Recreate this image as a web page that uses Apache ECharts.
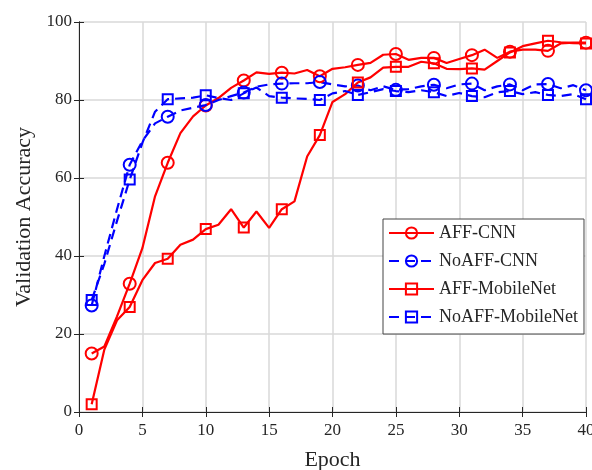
<!DOCTYPE html>
<html>
<head>
<meta charset="utf-8">
<script src="https://cdn.jsdelivr.net/npm/echarts@6/dist/echarts.min.js"></script>
<style>html,body{margin:0;padding:0;background:#fff;}#c{width:592px;height:470px;}</style>
</head>
<body>
<div id="c"></div>
<script>
const epochs = Array.from({length: 40}, (_, i) => i + 1);
const xTicks = [0, 5, 10, 15, 20, 25, 30, 35, 40];
const yTicks = [0, 20, 40, 60, 80, 100];

const affCNN = [15.0, 16.8, 24.5, 32.9, 42.0, 55.3, 63.9, 71.5, 75.8, 78.6,
  80.5, 83.1, 85.0, 87.1, 86.7, 87.0, 86.8, 87.7, 86.1, 88.0,
  88.4, 89.0, 89.5, 91.6, 91.8, 90.3, 90.8, 90.8, 89.5, 90.5,
  91.5, 92.9, 90.8, 92.4, 92.9, 92.9, 92.6, 94.5, 94.7, 94.7];
const noaffCNN = [27.3, 40.0, 52.0, 63.4, 69.5, 74.0, 75.7, 77.3, 78.0, 78.7,
  80.0, 81.0, 81.9, 83.4, 84.0, 84.2, 84.3, 84.3, 84.6, 84.0,
  83.5, 83.7, 82.5, 83.5, 82.6, 82.8, 83.5, 83.9, 83.0, 84.0,
  84.2, 82.5, 83.5, 84.0, 82.5, 84.0, 84.1, 83.0, 83.8, 82.5];
const affMobile = [2.0, 16.0, 23.5, 26.9, 33.8, 38.2, 39.3, 42.9, 44.2, 46.9,
  48.0, 52.0, 47.3, 51.4, 47.2, 52.0, 54.0, 65.5, 71.0, 79.5,
  81.5, 84.5, 85.8, 88.3, 88.5, 88.5, 89.8, 89.4, 88.0, 87.9,
  88.1, 87.8, 90.0, 92.2, 93.8, 94.5, 95.2, 94.8, 94.6, 94.5];
const noaffMobile = [28.7, 38.0, 49.0, 59.6, 69.0, 77.0, 80.2, 80.4, 80.6, 81.2,
  80.5, 80.0, 81.7, 83.2, 81.0, 80.6, 80.4, 80.3, 80.0, 81.7,
  82.3, 81.3, 82.0, 82.8, 82.3, 82.0, 82.5, 82.0, 81.0, 81.8,
  81.0, 80.7, 82.0, 82.3, 81.5, 82.0, 81.3, 81.0, 81.5, 80.2];

const FONT = 'Liberation Serif';
const TXT = '#262626';

function mk(vals) {
  return vals.map((v, i) => (i % 3 === 0) ? [epochs[i], v] : {value: [epochs[i], v], symbol: 'none'});
}
function series(name, vals, color, symbol, dashed, size) {
  return {
    name, type: 'line', data: mk(vals), showAllSymbol: true,
    symbol, symbolSize: size,
    lineStyle: {color, width: 2.2, type: dashed ? [10, 6] : 'solid'},
    itemStyle: {color: 'rgba(255,255,255,0)', borderColor: color, borderWidth: 2},
    color: color,
    emphasis: {disabled: true},
    animation: false
  };
}

const chart = echarts.init(document.getElementById('c'), null, {renderer: 'canvas'});
const axisLine = {show: true, lineStyle: {color: TXT, width: 1}};
chart.setOption({
  backgroundColor: '#fff',
  animation: false,
  grid: {left: 79, right: 6, top: 22, bottom: 58, containLabel: false, outerBoundsMode: 'none'},
  legend: {
    orient: 'vertical', left: 383, top: 219,
    padding: [5, 6, 8, 5], itemGap: 10, itemWidth: 45, itemHeight: 14,
    backgroundColor: '#fff', borderColor: '#444', borderWidth: 1, borderRadius: 0,
    textStyle: {fontFamily: FONT, fontSize: 18, color: TXT},
    data: ['AFF-CNN', 'NoAFF-CNN', 'AFF-MobileNet', 'NoAFF-MobileNet']
  },
  xAxis: [{
    type: 'value', min: xTicks[0], max: xTicks[xTicks.length - 1], interval: 5,
    name: 'Epoch', nameLocation: 'middle', nameGap: 37,
    nameTextStyle: {fontFamily: FONT, fontSize: 22, color: TXT},
    axisLine, axisTick: {show: true, inside: true, length: 5, lineStyle: {color: TXT}},
    axisLabel: {fontFamily: FONT, fontSize: 17, color: TXT, margin: 10},
    splitLine: {show: true, lineStyle: {color: '#d8d8d8', width: 1.5}}
  }, {
    type: 'value', position: 'top', min: 0, max: 40, interval: 5,
    axisLine, axisTick: {show: true, inside: true, length: 5, lineStyle: {color: TXT}},
    axisLabel: {show: false}, splitLine: {show: false}
  }],
  yAxis: [{
    type: 'value', min: yTicks[0], max: yTicks[yTicks.length - 1], interval: 20,
    name: 'Validation Accuracy', nameLocation: 'middle', nameGap: 44,
    nameTextStyle: {fontFamily: FONT, fontSize: 22, color: TXT},
    axisLine, axisTick: {show: true, inside: true, length: 5, lineStyle: {color: TXT}},
    axisLabel: {fontFamily: FONT, fontSize: 17, color: TXT, margin: 7},
    splitLine: {show: true, lineStyle: {color: '#d8d8d8', width: 1.5}}
  }, {
    type: 'value', position: 'right', min: 0, max: 100, interval: 20,
    axisLine, axisTick: {show: true, inside: true, length: 5, lineStyle: {color: TXT}},
    axisLabel: {show: false}, splitLine: {show: false}
  }],
  series: [
    series('AFF-CNN', affCNN, '#ff0000', 'circle', false, 12),
    series('NoAFF-CNN', noaffCNN, '#0000ff', 'circle', true, 12),
    series('AFF-MobileNet', affMobile, '#ff0000', 'rect', false, 10),
    series('NoAFF-MobileNet', noaffMobile, '#0000ff', 'rect', true, 10)
  ]
});
</script>
</body>
</html>
